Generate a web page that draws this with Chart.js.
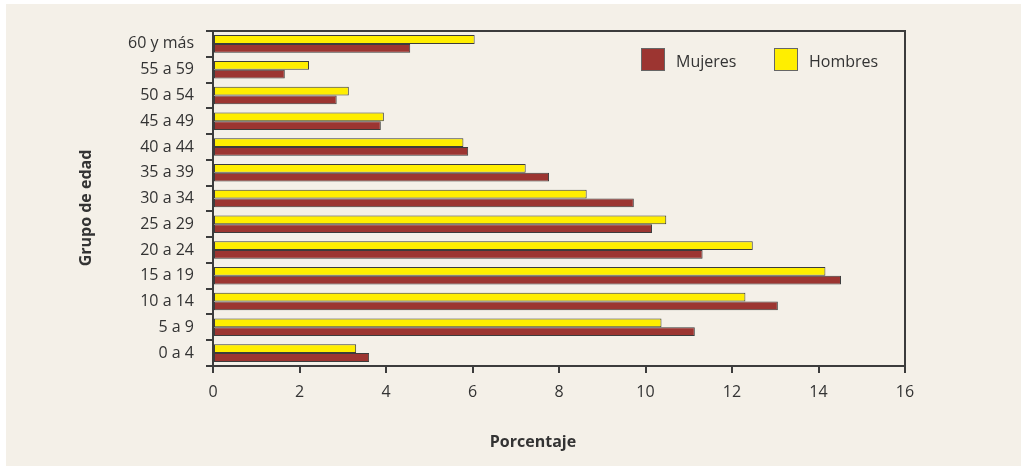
<!DOCTYPE html>
<html>
<head>
<meta charset="utf-8">
<script src="https://cdn.jsdelivr.net/npm/chart.js@4.4.1/dist/chart.umd.min.js"></script>
<style>
  html, body { margin: 0; padding: 0; background: #ffffff; }
  #panel {
    position: absolute; left: 6px; top: 4px;
    width: 1015px; height: 462px;
    background: #f4f0e8;
  }
</style>
</head>
<body>
<div id="panel"><canvas id="ageChart"></canvas></div>
<script>
// age groups, top to bottom
const groups = ['60 y más', '55 a 59', '50 a 54', '45 a 49', '40 a 44', '35 a 39',
  '30 a 34', '25 a 29', '20 a 24', '15 a 19', '10 a 14', '5 a 9', '0 a 4'];

const hombres = [6.05, 2.22, 3.14, 3.95, 5.79, 7.23, 8.64, 10.48, 12.48, 14.16, 12.31, 10.37, 3.31];
const mujeres = [4.56, 1.66, 2.86, 3.88, 5.90, 7.77, 9.73, 10.15, 11.32, 14.52, 13.06, 11.14, 3.61];

const xTicks = [0, 2, 4, 6, 8, 10, 12, 14, 16];

const ink = '#333333';
const lineCol = '#3c3c3c';
const fontFam = '"Open Sans", "Noto Sans", sans-serif';

// frame around the plot area + custom legend + axis titles
const decorations = {
    id: 'decorations',
    afterDraw(chart) {
        const { ctx, chartArea: a } = chart;
        ctx.save();
        ctx.strokeStyle = lineCol;
        ctx.lineWidth = 2;
        ctx.strokeRect(a.left, a.top, a.right - a.left, a.bottom - a.top);

        // legend (Mujeres first, then Hombres)
        const items = [chart.data.datasets[1], chart.data.datasets[0]];
        const offsets = [264, 131];
        ctx.font = '16px ' + fontFam;
        ctx.textBaseline = 'middle';
        items.forEach((ds, i) => {
            const x = a.right - offsets[i];
            const y = a.top + 17;
            ctx.fillStyle = ds.backgroundColor;
            ctx.fillRect(x, y, 24, 23);
            ctx.strokeStyle = '#666666';
            ctx.lineWidth = 1;
            ctx.strokeRect(x + 0.5, y + 0.5, 23, 22);
            ctx.fillStyle = ink;
            ctx.fillText(ds.label, x + 35, y + 14);
        });

        // axis titles
        ctx.font = 'bold 16px ' + fontFam;
        ctx.textAlign = 'center';
        ctx.fillStyle = ink;
        ctx.fillText('Porcentaje', 527, 438);
        ctx.translate(80, 204);
        ctx.rotate(-Math.PI / 2);
        ctx.fillText('Grupo de edad', 0, 0);
        ctx.restore();
    }
};

const ctx = document.getElementById('ageChart').getContext('2d');

new Chart(ctx, {
    type: 'bar',
    data: {
        labels: groups,
        datasets: [
            {
                label: 'Hombres',
                data: hombres,
                backgroundColor: '#ffee00',
                borderColor: lineCol,
                borderWidth: 1,
                borderSkipped: false,
                categoryPercentage: 0.68,
                barPercentage: 1.0,
            },
            {
                label: 'Mujeres',
                data: mujeres,
                backgroundColor: '#9c3531',
                borderColor: lineCol,
                borderWidth: 1,
                borderSkipped: false,
                categoryPercentage: 0.68,
                barPercentage: 1.0,
            },
        ],
    },
    options: {
        indexAxis: 'y',
        responsive: true,
        maintainAspectRatio: false,
        animation: false,
        layout: { padding: { top: 27, right: 116, bottom: 0, left: 0 } },
        plugins: {
            legend: { display: false },
            tooltip: { enabled: false },
        },
        scales: {
            x: {
                min: 0,
                max: 16,
                afterFit: (scale) => { scale.height = 100; },
                afterBuildTicks: (scale) => {
                    scale.ticks = xTicks.map(v => ({ value: v }));
                },
                grid: {
                    drawOnChartArea: false,
                    color: lineCol,
                    lineWidth: 2,
                    tickLength: 7,
                },
                border: { color: lineCol, width: 2 },
                ticks: {
                    color: ink,
                    font: { family: fontFam, size: 16 },
                    padding: 10,
                },
            },
            y: {
                afterFit: (scale) => { scale.width = 207; },
                grid: {
                    offset: true,
                    drawOnChartArea: false,
                    color: lineCol,
                    lineWidth: 2,
                    tickLength: 7,
                },
                border: { color: lineCol, width: 2 },
                ticks: {
                    color: ink,
                    font: { family: fontFam, size: 16 },
                    padding: 12,
                },
            },
        },
    },
    plugins: [decorations],
});
</script>
</body>
</html>
